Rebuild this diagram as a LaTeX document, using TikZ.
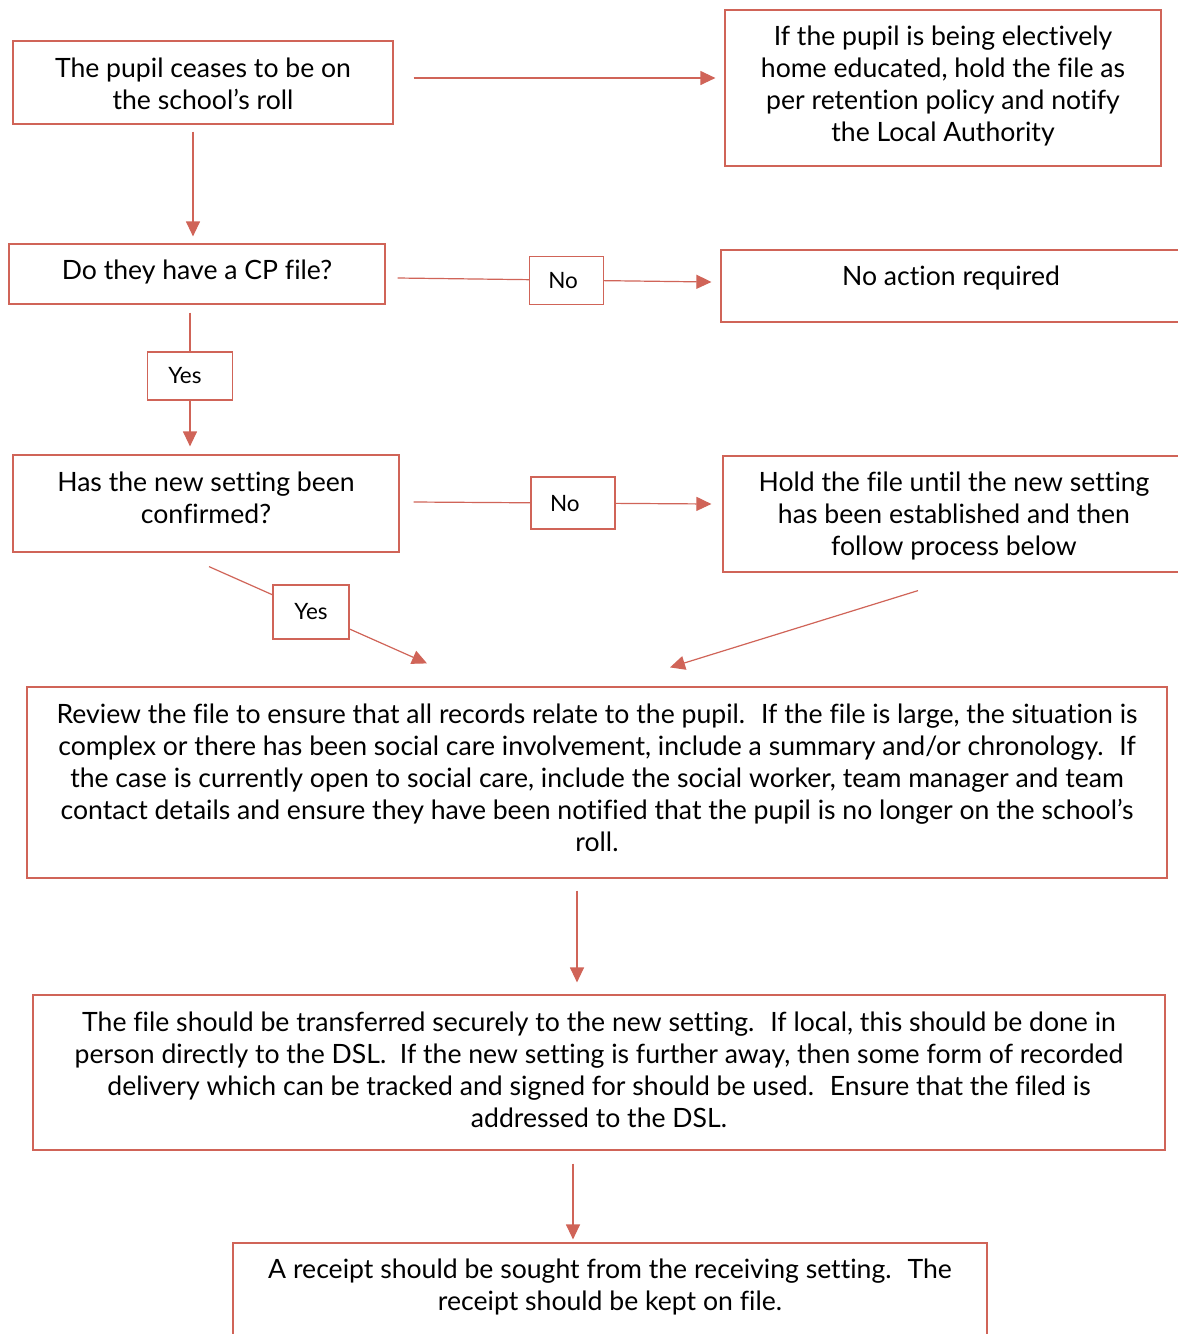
\documentclass[tikz,border=0pt]{standalone}
\usepackage{fontspec}
\setmainfont{Lato}[Ligatures=NoCommon]
\usetikzlibrary{arrows.meta}
\definecolor{rl}{RGB}{208,100,88}
\begin{document}
\begin{tikzpicture}[x=1pt,y=-1pt,
  box/.style={draw=rl,line width=1.2pt,inner sep=0pt},
  txt/.style={align=center,inner sep=0pt,font=\fontsize{26.6}{32}\selectfont},
  lab/.style={draw=rl,fill=white,line width=1.2pt,inner sep=0pt,font=\fontsize{22.5}{26}\selectfont},
  arr/.style={draw=rl,line width=1.2pt,-{Triangle[length=15pt,width=14pt]}},
  ln/.style={draw=rl,line width=1.2pt}]
\useasboundingbox (0,0) rectangle (1178,1334);
\fill[white] (0,0) rectangle (1178,1334);
% boxes
\node[box,minimum width=380pt,minimum height=83pt] (b1) at (203,82.5) {};
\node[box,minimum width=436pt,minimum height=156pt] (b2) at (943,88) {};
\node[box,minimum width=376pt,minimum height=60pt] (b3) at (197,274) {};
\node[box,minimum width=460pt,minimum height=72pt] (b4) at (951,286) {};
\node[box,minimum width=386pt,minimum height=97pt] (b5) at (206,503.5) {};
\node[box,minimum width=462pt,minimum height=116pt] (b6) at (954,514) {};
\node[box,minimum width=1140pt,minimum height=191pt] (b7) at (597,782.5) {};
\node[box,minimum width=1132pt,minimum height=155pt] (b8) at (599,1072.5) {};
\node[box,minimum width=754pt,minimum height=117pt] (b9) at (610,1301.5) {};
% texts
\node[txt] (t1) at (203,84) {The pupil ceases to be on\\the school’s roll};
\node[txt] (t2) at (943,86) {If the pupil is being electively\\home educated, hold the file as\\per retention policy and notify\\the Local Authority};
\node[txt] (t3) at (197,272) {Do they have a CP file?};
\node[txt] (t4) at (951,278) {No action required};
\node[txt] (t5) at (206,498) {Has the new setting been\\confirmed?};
\node[txt] (t6) at (954,516) {Hold the file until the new setting\\has been established and then\\follow process below};
\node[txt] (t7) at (597,778) {Review the file to ensure that all records relate to the pupil.~ If the file is large, the situation is\\complex or there has been social care involvement, include a summary and/or chronology.~ If\\the case is currently open to social care, include the social worker, team manager and team\\contact details and ensure they have been notified that the pupil is no longer on the school’s\\roll.};
\node[txt] (t8) at (599,1070) {The file should be transferred securely to the new setting.~ If local, this should be done in\\person directly to the DSL.~ If the new setting is further away, then some form of recorded\\delivery which can be tracked and signed for should be used.~ Ensure that the filed is\\addressed to the DSL.};
\node[txt] (t9) at (610,1287) {A receipt should be sought from the receiving setting.~ The\\receipt should be kept on file.};
% connectors
\draw[arr] ([xshift=20pt,yshift=4.5pt]b1.east) -- ([xshift=-9pt,yshift=10pt]b2.west);
\draw[arr] ([xshift=-10pt,yshift=-7pt]b1.south) -- ([xshift=-4pt,yshift=7pt]b3.north);
\draw[arr] ([xshift=12pt,yshift=-4pt]b3.east) -- node[lab,pos=0.537,minimum width=74pt,minimum height=48pt,text depth=0pt] (no1) {\hspace*{-6pt}No} ([xshift=-9pt,yshift=4pt]b4.west);
\draw[arr] ([xshift=-7pt,yshift=-8pt]b3.south) -- node[lab,pos=0.474,minimum width=85pt,minimum height=48pt] (yes1) {\hspace*{-10pt}Yes} ([xshift=-16pt,yshift=8pt]b5.north);
\draw[arr] ([xshift=14pt,yshift=1.5pt]b5.east) -- node[lab,pos=0.535,minimum width=84pt,minimum height=52pt] (no2) {\hspace*{-16pt}No} ([xshift=-11pt,yshift=10pt]b6.west);
\draw[arr] ([xshift=3pt,yshift=-14pt]b5.south) -- node[lab,pos=0.468,minimum width=76pt,minimum height=54pt] (yes2) {Yes} ([xshift=-170pt,yshift=23pt]b7.north);
\draw[arr] ([xshift=-36pt,yshift=-18pt]b6.south) -- ([xshift=73pt,yshift=19pt]b7.north);
\draw[arr] ([xshift=-20pt,yshift=-12pt]b7.south) -- ([xshift=-22pt,yshift=12pt]b8.north);
\draw[arr] ([xshift=-26pt,yshift=-13pt]b8.south) -- ([xshift=-37pt,yshift=3pt]b9.north);
\end{tikzpicture}
\end{document}
